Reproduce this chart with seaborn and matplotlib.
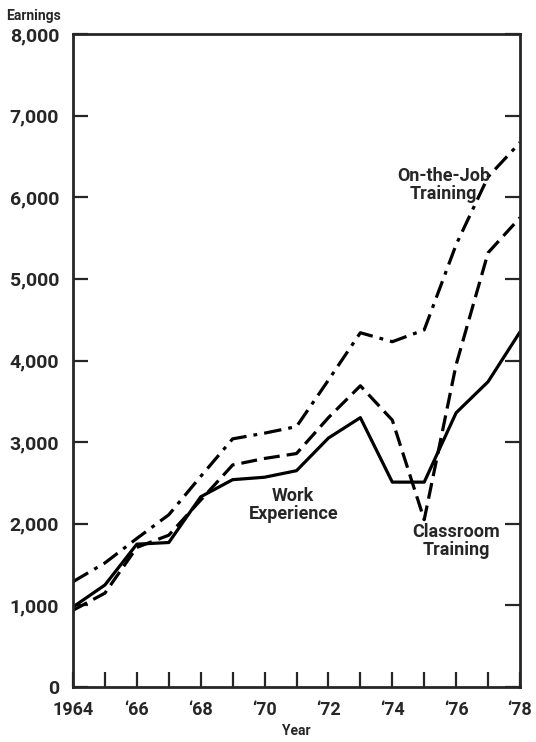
import seaborn as sns
import matplotlib.pyplot as plt
from matplotlib import font_manager

years = list(range(1964, 1979))
work_experience = [980, 1250, 1750, 1770, 2330, 2540, 2570, 2650, 3050, 3300, 2510, 2510, 3360, 3740, 4350]
classroom_training = [940, 1150, 1710, 1860, 2290, 2720, 2800, 2860, 3300, 3690, 3270, 2050, 3950, 5320, 5750]
on_the_job = [1290, 1520, 1820, 2110, 2580, 3040, 3110, 3190, 3760, 4340, 4230, 4375, 5420, 6250, 6670]
y_ticks = [0, 1000, 2000, 3000, 4000, 5000, 6000, 7000, 8000]
x_ticks_labeled = [1964, 1966, 1968, 1970, 1972, 1974, 1976, 1978]
x_labels = ["1964", "\u201866", "\u201868", "\u201870", "\u201872", "\u201874", "\u201876", "\u201878"]

sns.set_style("ticks")
names = {f.name for f in font_manager.fontManager.ttflist}
fam = ["Liberation Sans Narrow"] if "Liberation Sans Narrow" in names else []
plt.rcParams["font.family"] = fam + ["Roboto", "DejaVu Sans"]
plt.rcParams["font.weight"] = "bold"

fig = plt.figure(figsize=(5.36, 7.42), dpi=100)
ax = fig.add_axes([73 / 536, 55 / 742, 447 / 536, 653 / 742])

sns.lineplot(x=years, y=work_experience, ax=ax, color="black", lw=2.3, linestyle="-")
sns.lineplot(x=years, y=classroom_training, ax=ax, color="black", lw=2.3, dashes=(5, 2.2))
sns.lineplot(x=years, y=on_the_job, ax=ax, color="black", lw=2.3, dashes=(5.5, 2.2, 1.2, 2.2))

ax.set_xlim(1964, 1978)
ax.set_ylim(0, 8000)
ax.set_yticks(y_ticks)
ax.set_yticklabels([f"{v:,}" for v in y_ticks], fontsize=14, fontweight="bold")
ax.set_xticks(years)
ax.set_xticklabels([x_labels[x_ticks_labeled.index(y)] if y in x_ticks_labeled else "" for y in years],
                   fontsize=13, fontweight="bold")
ax.tick_params(axis="y", direction="in", length=11, width=1.6, right=True, pad=10)
ax.tick_params(axis="x", direction="in", length=11, width=1.6, pad=10)
for s in ax.spines.values():
    s.set_linewidth(2)
    s.set_visible(True)

ax.set_xlabel("Year", fontsize=10, fontweight="bold", labelpad=4)
ax.set_ylabel("")
fig.text(6 / 536, 1 - 16 / 742, "Earnings", fontsize=10, fontweight="bold", va="center", ha="left")

ax.text(1975.6, 6150, "On-the-Job\nTraining", fontsize=13, fontweight="bold", ha="center", va="center", linespacing=1.0)
ax.text(1970.9, 2230, "Work\nExperience", fontsize=13, fontweight="bold", ha="center", va="center", linespacing=1.0)
ax.text(1976.0, 1790, "Classroom\nTraining", fontsize=13, fontweight="bold", ha="center", va="center", linespacing=1.0)

fig.savefig("out.png", dpi=100)
